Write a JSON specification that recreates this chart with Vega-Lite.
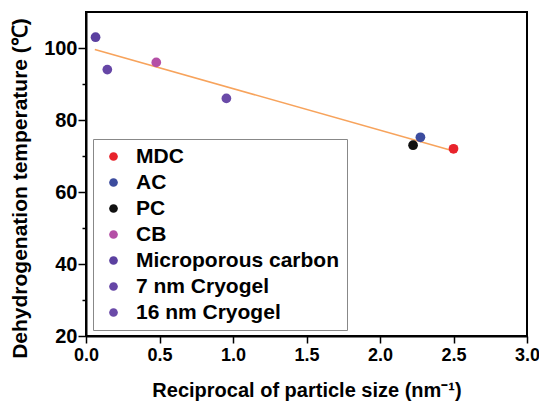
{
  "$schema": "https://vega.github.io/schema/vega-lite/v6.json",
  "width": 441,
  "height": 324,
  "autosize": {"type": "none"},
  "padding": {"left": 86, "top": 12, "right": 12, "bottom": 66},
  "config": {
    "view": {"stroke": "black", "strokeWidth": 2},
    "font": "Liberation Sans",
    "axis": {
      "grid": false,
      "domainColor": "black",
      "domainWidth": 2,
      "tickColor": "black",
      "tickWidth": 1.5,
      "labelColor": "black",
      "labelFont": "Liberation Sans",
      "labelFontWeight": "bold",
      "titleFont": "Liberation Sans",
      "titleFontWeight": "bold",
      "titleColor": "black"
    }
  },
  "datasets": {
    "points": [
      {"material": "MDC", "x": 2.5, "y": 72},
      {"material": "AC", "x": 2.275, "y": 75.2},
      {"material": "PC", "x": 2.225, "y": 73},
      {"material": "CB", "x": 0.478, "y": 96},
      {"material": "Microporous carbon", "x": 0.065, "y": 103},
      {"material": "7 nm Cryogel", "x": 0.145, "y": 94},
      {"material": "16 nm Cryogel", "x": 0.955, "y": 86}
    ],
    "fit": [
      {"x": 0.06, "y": 99.6},
      {"x": 2.5, "y": 71.4}
    ]
  },
  "layer": [
    {
      "data": {"name": "fit"},
      "mark": {"type": "line", "color": "#f7a35c", "strokeWidth": 1.6},
      "encoding": {
        "x": {"field": "x", "type": "quantitative", "scale": {"domain": [0, 3]},
          "axis": {
            "values": [0, 0.25, 0.5, 0.75, 1, 1.25, 1.5, 1.75, 2, 2.25, 2.5, 2.75, 3],
            "format": ".1f",
            "labelExpr": "(datum.value * 2) % 1 === 0 ? datum.label : ''",
            "tickSize": {"condition": {"test": "(datum.value * 2) % 1 !== 0", "value": 4}, "value": 7},
            "labelFontSize": 18,
            "labelPadding": 3,
            "labelFlush": false,
            "title": "Reciprocal of particle size (nm⁻¹)",
            "titleFontSize": 20,
            "titleBaseline": "alphabetic",
            "titleY": 60
          }
        },
        "y": {"field": "y", "type": "quantitative", "scale": {"domain": [20, 110]},
          "axis": {
            "values": [20, 30, 40, 50, 60, 70, 80, 90, 100],
            "labelExpr": "datum.value % 20 === 0 ? datum.label : ''",
            "tickSize": {"condition": {"test": "datum.value % 20 !== 0", "value": 4}, "value": 8},
            "labelFontSize": 20,
            "labelPadding": 1,
            "labelFlush": false,
            "title": "Dehydrogenation temperature (℃)",
            "titleFontSize": 21,
            "titleAngle": -90,
            "titleX": -66,
            "titleY": 176,
            "titleAlign": "center",
            "titleBaseline": "middle"
          }
        }
      }
    },
    {
      "data": {"name": "points"},
      "mark": {"type": "circle", "opacity": 1, "size": 95},
      "encoding": {
        "x": {"field": "x", "type": "quantitative"},
        "y": {"field": "y", "type": "quantitative"},
        "color": {
          "field": "material",
          "type": "nominal",
          "scale": {
            "domain": ["MDC", "AC", "PC", "CB", "Microporous carbon", "7 nm Cryogel", "16 nm Cryogel"],
            "range": ["#e8232b", "#3c4c9e", "#111111", "#b44fa6", "#5b40a0", "#6646a6", "#6a4aa8"]
          },
          "legend": {
            "orient": "none",
            "legendX": 7,
            "legendY": 127,
            "title": null,
            "strokeColor": "#888888",
            "padding": 7,
            "symbolType": "circle",
            "symbolSize": 75,
            "symbolOpacity": 1,
            "symbolStrokeWidth": 0,
            "symbolOffset": 3,
            "labelFontSize": 21,
            "labelFontWeight": "bold",
            "labelColor": "black",
            "labelFont": "Liberation Sans",
            "labelOffset": 12,
            "rowPadding": 4,
            "labelLimit": 300
          }
        }
      }
    }
  ]
}
